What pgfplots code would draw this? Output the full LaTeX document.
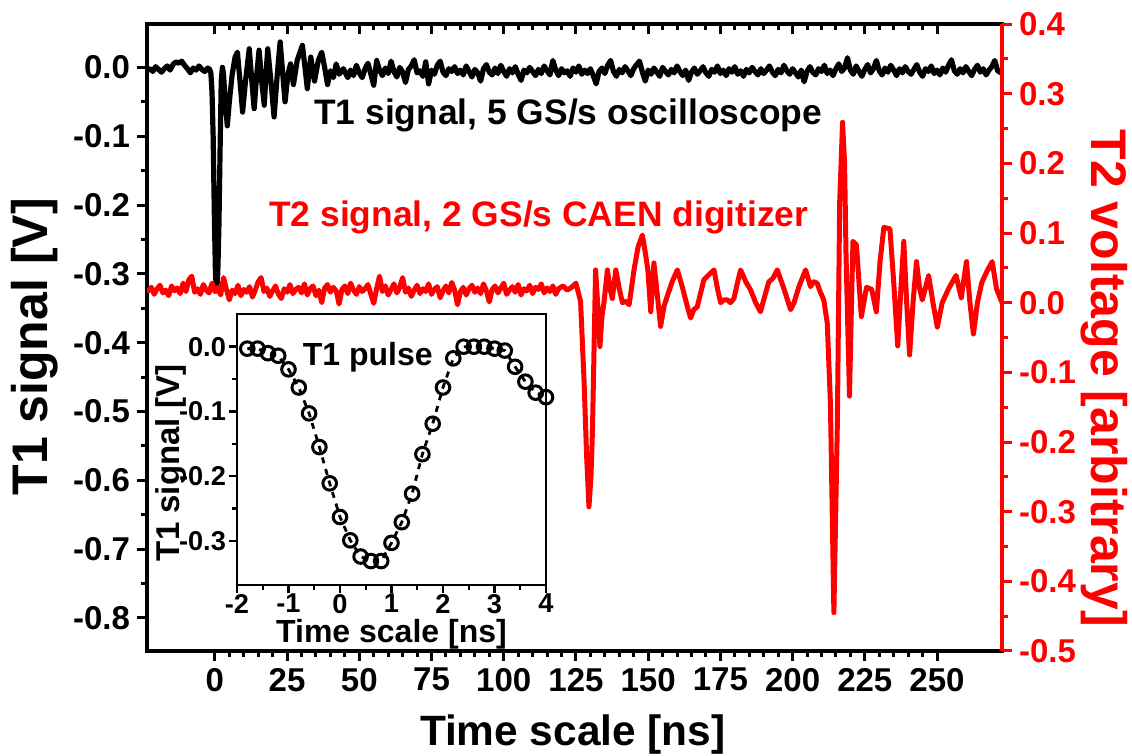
\documentclass[border=0pt]{standalone}
\usepackage{fontspec}
\setmainfont{Liberation Sans}
\usepackage{pgfplots}
\usepackage{pgfplotstable}
\pgfplotsset{compat=1.18}
\definecolor{myred}{RGB}{255,0,0}

\pgfplotstableread{
x y
-23.5 -0.004
-22.5 -0.002
-21.5 -0.006
-20.5 0.001
-19.5 -0.003
-18.5 -0.007
-17.5 -0.002
-16.5 0.002
-15.5 -0.004
-14.5 0.004
-13.5 0.008
-12.5 0.006
-11.5 0.009
-10.5 0.003
-9.5 -0.002
-8.5 -0.008
-7.5 -0.001
-6.5 -0.004
-5.5 0.002
-4.5 -0.003
-3.5 -0.006
-2.5 -0.001
-1.8 -0.003
-1.4 -0.008
-1.0 -0.035
-0.6 -0.10
-0.2 -0.21
0.2 -0.30
0.6 -0.325
1.0 -0.30
1.4 -0.23
1.8 -0.12
2.2 -0.02
2.6 0.0
3.0 -0.01
3.5 -0.045
4.3 -0.085
5.0 -0.05
6.0 -0.01
7.0 0.015
7.8 0.022
8.7 -0.02
9.6 -0.065
10.6 -0.02
11.9 0.027
12.7 -0.015
13.6 -0.06
14.5 -0.01
15.3 0.025
16.2 -0.02
17.1 -0.055
17.7 -0.01
18.3 0.027
19.4 -0.02
20.5 -0.072
21.6 -0.01
22.6 0.037
23.4 -0.005
24.3 -0.05
25.3 -0.01
26.2 0.005
27.2 -0.025
28.5 0.01
30.3 0.032
31.2 0.0
32.0 -0.031
33.2 0.015
34.5 -0.02
35.8 0.01
37.0 0.022
38.0 0.0
39.0 -0.025
40.0 -0.005
41.0 -0.015
42.0 0.005
43.0 -0.01
44.5 -0.002
46.0 -0.015
47 -0.004
48 -0.012
49 0.003
50 -0.008
51 -0.015
52 -0.002
53 0.006
54 -0.010
55 -0.026
56 0.010
57 -0.004
58 -0.012
59 -0.001
60 -0.009
61 0.009
62 -0.006
63 -0.014
64 0.000
65 -0.007
66 -0.022
67 -0.003
68 0.002
69 0.011
70 -0.008
71 -0.005
72 -0.013
73 0.008
74 -0.024
75 -0.004
76 -0.010
77 0.003
78 0.009
79 -0.007
80 -0.012
81 -0.002
82 -0.006
83 0.001
84 -0.009
85 -0.004
86 -0.011
87 0.002
88 -0.006
89 -0.014
90 -0.003
91 -0.008
92 -0.020
93 -0.002
94 0.004
95 -0.007
96 -0.011
97 -0.001
98 -0.009
99 0.003
100 -0.006
101 -0.013
102 -0.002
103 -0.008
104 0.001
105 -0.010
106 -0.019
107 -0.004
108 -0.008
109 0.000
110 -0.006
111 -0.012
112 -0.003
113 -0.009
114 0.002
115 -0.005
116 -0.011
117 0.010
118 -0.004
119 -0.012
120 -0.002
121 -0.008
122 -0.005
123 -0.013
124 -0.001
125 -0.007
126 0.002
127 -0.010
128 -0.004
129 -0.009
130 -0.002
131 -0.012
132 -0.024
133 -0.006
134 -0.001
135 -0.009
136 0.003
137 0.010
138 -0.006
139 -0.013
140 -0.003
141 -0.008
142 0.001
143 -0.005
144 -0.012
145 -0.002
146 0.004
147 0.009
148 -0.007
149 -0.020
150 -0.004
151 -0.010
152 -0.001
153 -0.007
154 -0.013
155 0.000
156 -0.006
157 -0.011
158 -0.003
159 -0.008
160 0.002
161 -0.006
162 -0.012
163 -0.004
164 -0.019
165 -0.007
166 -0.001
167 -0.010
168 -0.005
169 0.001
170 -0.008
171 -0.013
172 -0.003
173 -0.007
174 0.002
175 -0.009
176 -0.004
177 -0.012
178 -0.002
179 -0.007
180 0.001
181 -0.010
182 -0.005
183 -0.013
184 -0.003
185 -0.008
186 0.000
187 -0.006
188 -0.011
189 -0.002
190 -0.009
191 -0.004
192 0.002
193 -0.007
194 -0.012
195 -0.003
196 -0.008
197 0.003
198 -0.005
199 -0.010
200 -0.002
201 -0.008
202 -0.014
203 -0.004
204 -0.021
205 -0.006
206 0.001
207 -0.007
208 -0.011
209 -0.002
210 -0.006
211 0.003
212 -0.009
213 -0.004
214 -0.012
215 -0.002
216 0.005
217 -0.006
218 -0.001
219 0.014
220 -0.004
221 -0.010
222 0.002
223 -0.006
224 -0.013
225 -0.003
226 0.004
227 -0.008
228 -0.002
229 0.010
230 -0.005
231 -0.011
232 -0.001
233 -0.007
234 0.003
235 -0.004
236 -0.012
237 -0.002
238 -0.008
239 0.001
240 -0.006
241 -0.010
242 -0.003
243 0.004
244 -0.007
245 -0.013
246 -0.002
247 -0.006
248 0.002
249 -0.009
250 -0.004
251 -0.011
252 -0.001
253 -0.007
254 0.003
255 0.011
256 -0.005
257 -0.010
258 -0.002
259 -0.008
260 0.001
261 -0.006
262 -0.012
263 -0.003
264 0.003
265 -0.007
266 -0.002
267 -0.011
268 -0.004
269 0.001
270 0.010
271 -0.005
272.5 -0.009
}\Tone

\pgfplotstableread{
x y
-23.5 0.015
-22 0.022
-21 0.012
-20 0.020
-19 0.025
-18 0.014
-17 0.018
-16 0.010
-15 0.024
-14 0.017
-13 0.021
-12 0.013
-11 0.028
-10 0.016
-9 0.033
-8 0.038
-7 0.015
-6 0.020
-5 0.012
-4 0.026
-3 0.018
-2 0.014
-1 0.028
0 0.016
1 0.022
2 0.011
3 0.036
4 0.019
5 0.004
6 0.018
7 0.013
8 0.025
9 0.010
10 0.019
11 0.015
12 0.023
13 0.008
14 0.018
15 0.030
16 0.036
17 0.016
18 0.021
19 0.009
20 0.017
21 0.024
22 0.012
23 0.006
24 0.020
25 0.015
26 0.026
27 0.013
28 0.019
29 0.022
30 0.014
31 0.027
32 0.011
33 0.020
34 0.024
35 0.010
36 0.018
37 0.000
38 0.021
39 0.026
40 0.015
41 0.022
42 0.017
43 -0.002
44 0.019
45 0.024
46 0.013
47 0.028
48 0.018
49 0.012
50 0.023
51 0.016
52 0.020
53 0.026
54 0.012
55 -0.001
56 0.020
57 0.038
58 0.016
59 0.024
60 0.011
61 0.019
62 0.027
63 0.014
64 0.022
65 0.036
66 0.015
67 0.021
68 0.009
69 0.018
70 0.025
71 0.013
72 0.020
73 0.016
74 0.027
75 0.012
76 0.019
77 0.023
78 0.007
79 0.017
80 0.024
81 0.014
82 0.029
83 0.018
84 -0.003
85 0.016
86 0.022
87 0.011
88 0.020
89 0.025
90 0.015
91 0.021
92 0.013
93 0.027
94 0.017
95 0.001
96 0.019
97 0.024
98 0.014
99 0.021
100 0.028
101 0.012
102 0.018
103 0.023
104 0.015
105 0.026
106 0.011
107 0.020
108 0.017
109 0.025
110 0.013
111 0.022
112 0.019
113 0.027
114 0.014
115 0.021
116 0.016
117 0.024
118 0.012
119 0.020
120.5 0.024
122.0 0.018
123.5 0.022
125.0 0.028
126.6 0.002
127.8 -0.111
128.7 -0.22
129.5 -0.293
130.2 -0.25
130.7 -0.187
131.3 -0.06
131.8 0.047
132.5 0.0
133.3 -0.063
134.0 -0.02
134.7 0.0
135.9 0.047
136.8 0.02
137.6 0.006
138.8 0.047
140.0 0.02
141.1 0.0
142.2 0.002
143.4 -0.003
144.2 0.02
145.1 0.047
146.5 0.08
148.0 0.097
148.9 0.075
149.9 0.047
150.9 -0.013
152.0 0.057
153.2 0.01
154.3 -0.034
155.5 -0.005
156.6 0.009
158.3 0.03
160.1 0.047
161.8 0.023
163.2 0.0
164.7 -0.022
165.8 -0.01
167.0 -0.006
169.3 0.033
171.0 0.04
172.8 0.047
174.0 0.02
175.1 0.0
176.2 0.004
177.4 0.004
178.5 0.0
179.7 0.006
181.0 0.03
182.0 0.047
183.8 0.03
185.5 0.018
187.2 0.0
188.9 -0.013
190.4 0.01
191.8 0.030
193.2 0.035
194.7 0.047
197.0 0.02
199.3 -0.010
200.5 0.0
202.2 0.023
204.5 0.047
206.2 0.023
207.3 0.03
208.5 0.028
209.6 0.015
210.8 0.004
212.0 -0.029
213.1 -0.144
214.3 -0.445
215.5 -0.173
216.3 0.143
217.3 0.259
218.0 0.2
218.5 0.069
219.7 -0.134
220.4 0.0
220.9 0.088
222.1 0.083
223.8 -0.020
225.6 0.022
227.4 0.019
229.0 -0.013
230.3 0.06
231.6 0.108
233.7 0.106
235.0 0.03
236.4 -0.062
237.5 0.02
238.5 0.088
239.5 0.0
240.5 -0.075
241.7 0.0
242.9 0.059
244.0 0.02
244.9 0.004
247.1 0.039
248.6 0.0
250.1 -0.035
251.8 0.0
254.0 0.02
256.6 0.039
258.4 0.007
260.2 0.059
261.4 0.0
262.6 -0.045
264.0 0.0
265.5 0.029
267.3 0.045
269.1 0.059
270.6 0.02
272.5 0.0
}\Ttwo

\pgfplotstableread{
x y
-1.8 -0.003
-1.6 -0.003
-1.4 -0.010
-1.2 -0.014
-1.0 -0.035
-0.8 -0.063
-0.6 -0.103
-0.4 -0.155
-0.2 -0.211
0.0 -0.263
0.2 -0.299
0.4 -0.324
0.6 -0.331
0.8 -0.331
1.0 -0.303
1.2 -0.271
1.4 -0.227
1.6 -0.166
1.8 -0.119
2.0 -0.063
2.2 -0.018
2.4 0.000
2.6 0.000
2.8 0.000
3.0 -0.003
3.2 -0.006
3.4 -0.031
3.6 -0.054
3.8 -0.071
4.0 -0.078
}\Tpulse

\begin{document}
\begin{tikzpicture}
\useasboundingbox (-73.5pt,-52.5pt) rectangle (492.5pt,325.5pt);

% main axis (left, bottom)
\begin{axis}[
  at={(0pt,0pt)}, anchor=south west,
  width=427.5pt, height=313.5pt, scale only axis,
  xmin=-23.5, xmax=272.5, ymin=-0.848, ymax=0.063,
  xtick={0,25,50,75,100,125,150,175,200,225,250}, minor x tick num=4,
  ytick={-0.8,-0.7,-0.6,-0.5,-0.4,-0.3,-0.2,-0.1,0},
  minor y tick num=1,
  xtick pos=bottom, ytick pos=left, tick align=outside,
  major tick length=5pt, minor tick length=3pt,
  tick style={line width=1.5pt, black},
  axis line style={line width=1.8pt},
  scaled y ticks=false,
  /pgf/number format/assume math mode=true,
  tick label style={font=\fontsize{16.5}{18}\selectfont\bfseries},
  yticklabel style={/pgf/number format/fixed, /pgf/number format/fixed zerofill, /pgf/number format/precision=1},
  xlabel={Time scale [ns]},
  ylabel={T1 signal [V]},
  xlabel style={font=\fontsize{21.2}{24}\selectfont\bfseries, at={(axis description cs:0.498,-0.134)}, anchor=center},
  ylabel style={font=\fontsize{25}{28}\selectfont\bfseries, at={(axis description cs:-0.131,0.485)}, anchor=center},
]
\addplot[black, line width=2.6pt, line join=round] table[x=x, y=y] {\Tone};
\node[anchor=west, font=\fontsize{17.7}{20}\selectfont\bfseries, inner sep=0pt] at (axis cs:34.3,-0.07) {T1 signal, 5 GS/s oscilloscope};
\node[anchor=west, font=\fontsize{17.7}{20}\selectfont\bfseries, text=myred, inner sep=0pt] at (axis cs:18.7,-0.218) {T2 signal, 2 GS/s CAEN digitizer};
\end{axis}

% top ticks pointing inward
\begin{axis}[
  at={(0pt,0pt)}, anchor=south west,
  width=427.5pt, height=313.5pt, scale only axis,
  xmin=-23.5, xmax=272.5, ymin=0, ymax=1,
  axis x line*=top, axis y line=none,
  xtick={0,25,50,75,100,125,150,175,200,225,250}, minor x tick num=4,
  xticklabels={}, tick align=inside,
  major tick length=5pt, minor tick length=3pt,
  tick style={line width=1.5pt, black},
  axis line style={line width=1.8pt, -},
]
\end{axis}

% right axis (T2)
\begin{axis}[
  at={(0pt,0pt)}, anchor=south west,
  width=427.5pt, height=313.5pt, scale only axis,
  xmin=-23.5, xmax=272.5, ymin=-0.5, ymax=0.4,
  axis y line*=right, axis x line=none,
  ytick={-0.5,-0.4,-0.3,-0.2,-0.1,0,0.1,0.2,0.3,0.4},
  minor y tick num=1,
  tick align=outside,
  major tick length=5pt, minor tick length=3pt,
  tick style={line width=1.5pt, myred},
  y axis line style={line width=1.8pt, myred, -},
  scaled y ticks=false,
  /pgf/number format/assume math mode=true,
  yticklabel style={font=\fontsize{16.5}{18}\selectfont\bfseries, text=myred, /pgf/number format/fixed, /pgf/number format/fixed zerofill, /pgf/number format/precision=1},
  ylabel={T2 voltage [arbitrary]},
  ylabel style={font=\fontsize{25}{28}\selectfont\bfseries, text=myred, at={(axis description cs:1.12,0.435)}, anchor=center, rotate=180},
]
\addplot[myred, line width=2.5pt, line join=round] table[x=x, y=y] {\Ttwo};
\end{axis}

% inset
\begin{axis}[
  at={(45pt,33pt)}, anchor=south west,
  width=154.5pt, height=135.5pt, scale only axis,
  axis background/.style={fill=white},
  xmin=-2, xmax=4, ymin=-0.368, ymax=0.0505,
  xtick={-2,-1,0,1,2,3,4}, minor x tick num=1,
  ytick={-0.3,-0.2,-0.1,0}, minor y tick num=1,
  xtick pos=bottom, ytick pos=left, tick align=outside,
  major tick length=4pt, minor tick length=2.5pt,
  tick style={line width=1.2pt, black},
  axis line style={line width=1.3pt},
  scaled y ticks=false,
  /pgf/number format/assume math mode=true,
  tick label style={font=\fontsize{13.6}{15}\selectfont\bfseries},
  xticklabel style={yshift=3pt},
  yticklabel style={xshift=2pt, /pgf/number format/fixed, /pgf/number format/fixed zerofill, /pgf/number format/precision=1},
  xlabel={Time scale [ns]}, ylabel={T1 signal [V]},
  xlabel style={font=\fontsize{16}{18}\selectfont\bfseries, at={(axis description cs:0.5,-0.18)}, anchor=center},
  ylabel style={font=\fontsize{16.5}{18}\selectfont\bfseries, at={(axis description cs:-0.215,0.45)}, anchor=center},
  clip=true,
]
\addplot[black, line width=1.4pt, dashed, mark=o, mark size=3.4pt,
  mark options={solid, line width=1.5pt, fill=white}] table[x=x, y=y] {\Tpulse};
\node[font=\fontsize{16}{18}\selectfont\bfseries] at (axis cs:0.54,-0.016) {T1 pulse};
\end{axis}
\end{tikzpicture}
\end{document}
